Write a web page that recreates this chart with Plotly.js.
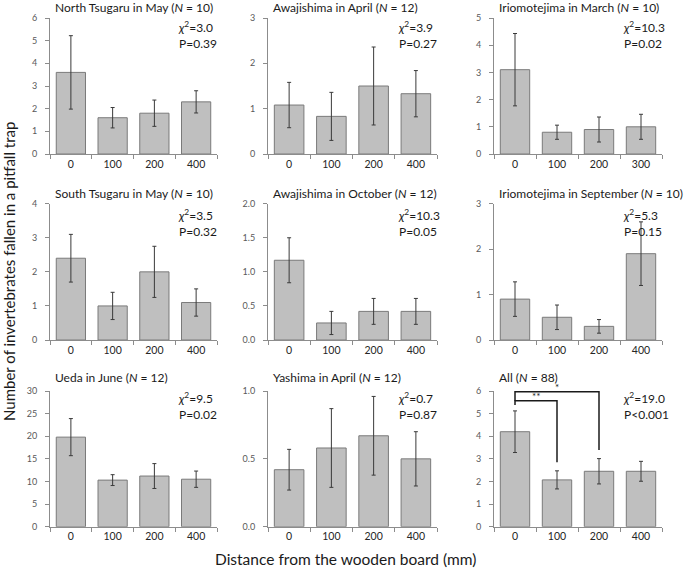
<!DOCTYPE html>
<html><head><meta charset="utf-8">
<script src="https://cdn.plot.ly/plotly-3.0.1.min.js"></script>
<style>body{margin:0;background:#fff}</style></head>
<body><div id="c" style="width:685px;height:570px"></div>
<script>
// ---- data ----
const cats = ["0","100","200","400"];
const catsIriMar = ["0","100","200","300"];
const titles = [
  "North Tsugaru in May (<i>N</i> = 10)",
  "Awajishima in April (<i>N</i> = 12)",
  "Iriomotejima in March (<i>N</i> = 10)",
  "South Tsugaru in May (<i>N</i> = 10)",
  "Awajishima in October (<i>N</i> = 12)",
  "Iriomotejima in September (<i>N</i> = 10)",
  "Ueda in June (<i>N</i> = 12)",
  "Yashima in April (<i>N</i> = 12)",
  "All (<i>N</i> = 88)"
];
const northTsugaruMay = [3.6, 1.6, 1.8, 2.3];
const northTsugaruMayErr = [1.62, 0.45, 0.58, 0.49];
const awajiApr = [1.08, 0.83, 1.5, 1.33];
const awajiAprErr = [0.5, 0.53, 0.86, 0.51];
const iriMar = [3.1, 0.8, 0.9, 1.0];
const iriMarErr = [1.33, 0.26, 0.46, 0.46];
const southTsugaruMay = [2.4, 1.0, 2.0, 1.1];
const southTsugaruMayErr = [0.7, 0.4, 0.75, 0.4];
const awajiOct = [1.17, 0.25, 0.42, 0.42];
const awajiOctErr = [0.33, 0.17, 0.19, 0.19];
const iriSep = [0.9, 0.5, 0.3, 1.9];
const iriSepErr = [0.38, 0.27, 0.15, 0.7];
const uedaJun = [19.8, 10.3, 11.2, 10.5];
const uedaJunErr = [4.1, 1.2, 2.75, 1.8];
const yashimaApr = [0.42, 0.58, 0.67, 0.5];
const yashimaAprErr = [0.15, 0.29, 0.29, 0.2];
const allSites = [4.2, 2.07, 2.45, 2.45];
const allSitesErr = [0.92, 0.4, 0.56, 0.44];
const chi2 = ["3.0","3.9","10.3","3.5","10.3","5.3","9.5","0.7","19.0"];
const pText = ["=0.39","=0.27","=0.02","=0.32","=0.05","=0.15","=0.02","=0.87","<0.001"];
const yMax = [6, 3, 5, 4, 2, 3, 30, 1, 6];
const yDtick = [1, 1, 1, 1, 0.5, 1, 5, 0.5, 1];
// significance brackets in "All": [from, to, label, level]
const sigPairs = [["0","100","**",5.57], ["0","200","*",5.97]];
const sigLeftBottom = 5.38;

const means = [northTsugaruMay, awajiApr, iriMar, southTsugaruMay, awajiOct, iriSep, uedaJun, yashimaApr, allSites];
const errs = [northTsugaruMayErr, awajiAprErr, iriMarErr, southTsugaruMayErr, awajiOctErr, iriSepErr, uedaJunErr, yashimaAprErr, allSitesErr];
const catSets = [cats, cats, catsIriMar, cats, cats, cats, cats, cats, cats];

// ---- layout geometry (pixels) ----
const W = 685, H = 570;
const colX = [[50,217],[268,437],[494,662]];
const rowY = [[18,154],[203.7,340],[391,526.7]];
const titleShift = [10, 10, 14];
const statShift = [-17, -19, -15];
const FONT = "Lato, 'Open Sans', sans-serif";
const px = v => v / W, py = v => 1 - v / H;

const traces = [];
const layout = {
  width: W, height: H, margin: {l:0, r:0, t:0, b:0},
  paper_bgcolor: "#fff", plot_bgcolor: "#fff",
  showlegend: false, bargap: 0.3,
  font: {family: FONT, color: "#1a1a1a"},
  annotations: []
};

for (let i = 0; i < 9; i++) {
  const r = Math.floor(i/3), c = i % 3;
  const sfx = i === 0 ? "" : String(i+1);
  const xa = "x" + sfx, ya = "y" + sfx;
  traces.push({
    type: "bar", x: catSets[i], y: means[i], xaxis: xa, yaxis: ya,
    marker: {color: "#bfbfbf", line: {color: "#7a7a7a", width: 1}},
    error_y: {type: "data", array: errs[i], visible: true, color: "#3a3a3a", thickness: 1, width: 2},
    hoverinfo: "skip"
  });
  layout["xaxis" + sfx] = {
    domain: [px(colX[c][0]), px(colX[c][1])], anchor: ya, type: "category",
    categoryorder: "array", categoryarray: catSets[i], range: [-0.5, 3.5],
    showline: true, linecolor: "#8c8c8c", linewidth: 1,
    ticks: "outside", tickson: "boundaries", ticklen: 4, tickcolor: "#8c8c8c",
    tickfont: {size: 10.5, color: "#262626", family: FONT},
    showgrid: false, zeroline: false, fixedrange: true
  };
  layout["yaxis" + sfx] = {
    domain: [py(rowY[r][1]), py(rowY[r][0])], anchor: xa,
    range: [0, yMax[i]], dtick: yDtick[i], tick0: 0,
    tickformat: yDtick[i] < 1 ? ".1f" : "d",
    showline: true, linecolor: "#8c8c8c", linewidth: 1,
    ticks: "outside", ticklen: 4, tickcolor: "#8c8c8c", ticklabelstandoff: 6,
    tickfont: {size: 9, color: "#595959", family: FONT},
    showgrid: false, zeroline: false, fixedrange: true
  };
  // panel title (anchored to this panel's own domain)
  layout.annotations.push({
    xref: xa + " domain", yref: ya + " domain", x: 0, y: 1,
    xanchor: "left", yanchor: "middle", align: "left", xshift: 3, yshift: titleShift[r],
    text: titles[i], showarrow: false, font: {size: 12, color: "#1a1a1a", family: FONT}
  });
  // statistics
  layout.annotations.push({
    xref: xa + " domain", yref: ya + " domain", x: 1, y: 1,
    xanchor: "left", yanchor: "middle", align: "left", xshift: -41, yshift: statShift[r],
    text: "<i>χ</i><sup>2</sup>=" + chi2[i] + "<br>P" + pText[i],
    showarrow: false, font: {size: 12, color: "#1a1a1a", family: FONT}
  });
}

// significance brackets (panel 9)
sigPairs.forEach((p, k) => {
  const toIdx = cats.indexOf(p[1]);
  const bottom = allSites[toIdx] + allSitesErr[toIdx] + 0.38;
  const startY = k === 0 ? sigLeftBottom : sigPairs[k-1][3];
  traces.push({
    type: "scatter", mode: "lines", xaxis: "x9", yaxis: "y9",
    x: [p[0], p[0], p[1], p[1]], y: [startY, p[3], p[3], bottom],
    line: {color: "#1a1a1a", width: 1.5}, cliponaxis: false, hoverinfo: "skip"
  });
  layout.annotations.push({
    xref: "x9", yref: "y9", x: (cats.indexOf(p[0]) + toIdx)/2, y: p[3],
    xanchor: "center", yanchor: "bottom", yshift: -3, text: p[2], showarrow: false,
    font: {size: 10, color: "#1a1a1a", family: FONT}
  });
});

// global axis titles
layout.annotations.push({
  xref: "paper", yref: "paper", x: px(9), y: py(272), textangle: -90,
  xanchor: "center", yanchor: "middle",
  text: "Number of invertebrates fallen in a pitfall trap", showarrow: false,
  font: {size: 15, color: "#1a1a1a", family: FONT}
});
layout.annotations.push({
  xref: "paper", yref: "paper", x: px(345), y: py(559),
  xanchor: "center", yanchor: "middle",
  text: "Distance from the wooden board (mm)", showarrow: false,
  font: {size: 15.5, color: "#1a1a1a", family: FONT}
});

Plotly.newPlot("c", traces, layout, {staticPlot: true, displayModeBar: false});
</script></body></html>
